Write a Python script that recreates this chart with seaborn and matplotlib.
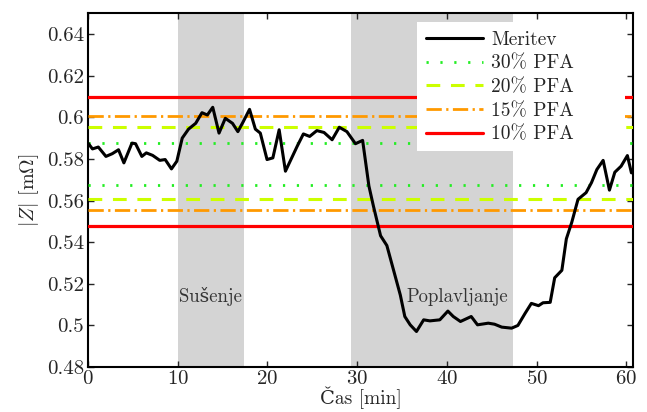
import numpy as np
import matplotlib
matplotlib.use("Agg")
import matplotlib.pyplot as plt
import seaborn as sns
import pandas as pd
from matplotlib.ticker import FuncFormatter
from matplotlib.patches import Rectangle

cas = [0.0, 0.5, 1.15, 2.0, 2.7, 3.4, 4.0, 4.9, 5.3, 6.0, 6.5, 7.2, 8.0, 8.6, 9.3, 9.9,
       10.5, 11.2, 12.0, 12.7, 13.3, 13.9, 14.6, 15.3, 16.1, 16.7, 17.3, 18.0, 18.65, 19.2,
       19.95, 20.6, 21.3, 22.0, 22.7, 23.3, 24.0, 24.7, 25.5, 26.3, 27.2, 28.0, 28.85, 29.8,
       30.6, 31.3, 31.8, 32.6, 33.3, 34.0, 34.8, 35.3, 35.9, 36.6, 37.4, 38.1, 39.2, 40.1,
       40.7, 41.5, 42.7, 43.4, 44.6, 45.3, 46.1, 47.2, 47.9, 48.7, 49.4, 50.2, 50.7, 51.5,
       52.0, 52.8, 53.3, 53.9, 54.6, 55.5, 56.1, 56.7, 57.4, 58.1, 58.7, 59.4, 60.1, 60.55]
meritev = [0.5876, 0.5848, 0.5857, 0.5812, 0.5825, 0.5844, 0.5781, 0.5876, 0.5873, 0.5812,
           0.5829, 0.5817, 0.5793, 0.5797, 0.5752, 0.5789, 0.5900, 0.5943, 0.5971, 0.6022,
           0.6011, 0.6048, 0.5924, 0.5995, 0.5971, 0.5931, 0.5979, 0.6038, 0.5943, 0.5924,
           0.5797, 0.5805, 0.5940, 0.5741, 0.5805, 0.5860, 0.5920, 0.5908, 0.5936, 0.5927,
           0.5892, 0.5952, 0.5931, 0.5873, 0.5889, 0.5670, 0.5574, 0.5431, 0.5384, 0.5273,
           0.5146, 0.5043, 0.5003, 0.4971, 0.5027, 0.5022, 0.5027, 0.5069, 0.5043, 0.5019,
           0.5043, 0.5003, 0.5011, 0.5006, 0.4992, 0.4987, 0.5000, 0.5058, 0.5106, 0.5095,
           0.5109, 0.5111, 0.5229, 0.5265, 0.5416, 0.5495, 0.5606, 0.5638, 0.5686, 0.5749,
           0.5793, 0.5650, 0.5736, 0.5765, 0.5816, 0.5733]

# PFA thresholds (upper, lower)
pfa_labels = ["30% PFA", "20% PFA", "15% PFA", "10% PFA"]
pfa_upper = [0.5876, 0.5952, 0.6008, 0.6095]
pfa_lower = [0.5676, 0.5606, 0.5555, 0.5476]

# shaded phases
faze = ["Sušenje", "Poplavljanje"]
faze_od = [10.0, 29.3]
faze_do = [17.4, 47.4]
faze_txt_x = [13.6, 41.1]
faze_txt_y = 0.5138

yticks = [0.48, 0.5, 0.52, 0.54, 0.56, 0.58, 0.6, 0.62, 0.64]
xticks = [0, 10, 20, 30, 40, 50, 60]

sns.set_style("ticks")
plt.rcParams['font.family'] = ['cmr10', 'DejaVu Serif']
plt.rcParams['mathtext.fontset'] = 'cm'
plt.rcParams['axes.unicode_minus'] = False
plt.rcParams['axes.formatter.use_mathtext'] = True

fig = plt.figure(figsize=(6.47, 4.12), dpi=100)
ax = fig.add_axes([0.136, 0.109, 0.842, 0.859])

for a, b in zip(faze_od, faze_do):
    ax.axvspan(a, b, color='#d4d4d4', lw=0, zorder=0)

styles = [
    dict(color='#22ee22', lw=2.0, linestyle=(0, (0.8, 4.2))),
    dict(color='#ccff00', lw=2.2, linestyle=(0, (4.5, 3.5))),
    dict(color='#ff9900', lw=2.0, linestyle=(0, (5.5, 1.6, 0.8, 1.6))),
    dict(color='#ff0000', lw=2.3, linestyle='-'),
]

df = pd.DataFrame({'Cas': cas, 'Z': meritev})
sns.lineplot(data=df, x='Cas', y='Z', color='black', lw=2.2, ax=ax, label='Meritev', zorder=5)

for lab, up, lo, st in zip(pfa_labels, pfa_upper, pfa_lower, styles):
    ax.axhline(up, label=lab, zorder=3, **st)
    ax.axhline(lo, zorder=3, **st)

for name, tx in zip(faze, faze_txt_x):
    ax.text(tx, faze_txt_y, name, ha='center', va='center', fontsize=13.5, color='#333333')

ax.set_xlim(0, 60.7)
ax.set_ylim(0.48, 0.65)
ax.set_xticks(xticks)
ax.set_yticks(yticks)
ax.yaxis.set_major_formatter(FuncFormatter(lambda v, p: f"{v:g}"))
ax.tick_params(direction='in', length=4, width=1.0, top=True, right=True,
               labelsize=15, pad=3)
ax.tick_params(axis='x', pad=2)
for s in ax.spines.values():
    s.set_linewidth(1.5)
    s.set_color('black')

ax.set_xlabel("Čas [min]", fontsize=14, labelpad=-1)
ax.set_ylabel(r"$|Z|$ [m$\Omega$]", fontsize=14.5, labelpad=4)

# white legend box (wider than its content, as in the original)
ax.add_patch(Rectangle((0.604, 0.610), 0.381, 0.365, transform=ax.transAxes,
                       facecolor='white', edgecolor='none', zorder=9))
leg = ax.legend(loc='upper left', bbox_to_anchor=(0.604, 0.975), fontsize=14,
                frameon=False, handlelength=2.95, borderpad=0.45, labelspacing=0.3,
                handletextpad=0.4, borderaxespad=0)
leg.set_zorder(10)

fig.savefig("out.png", dpi=100)
